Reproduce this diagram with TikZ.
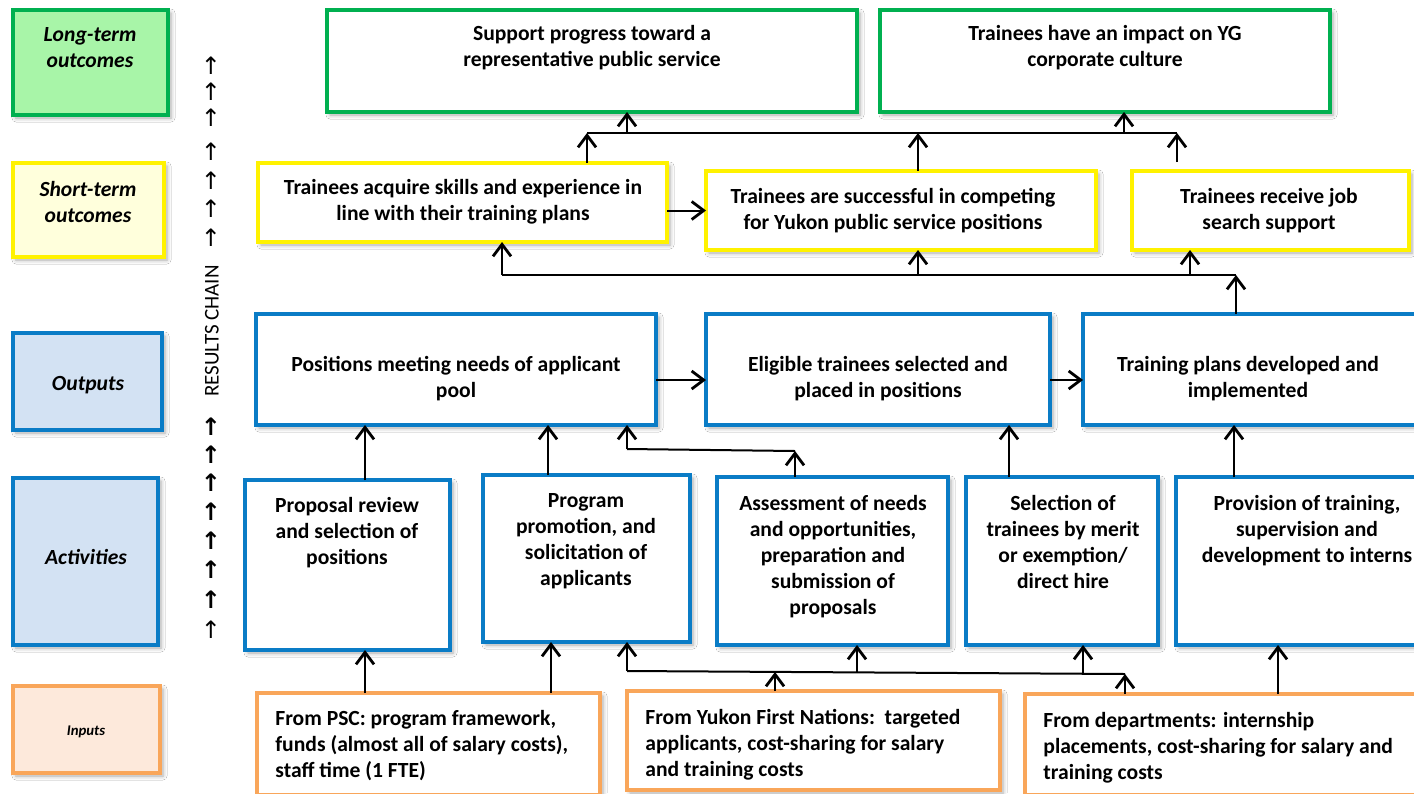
\documentclass[tikz,border=0pt]{standalone}
\usepackage{fontspec}
\setmainfont{Carlito}
\newfontfamily\arrowfont{DejaVu Sans}
\usetikzlibrary{arrows.meta,shadows.blur,calc}
\definecolor{gbord}{HTML}{00B050}
\definecolor{gfill}{HTML}{A8F5A8}
\definecolor{ybord}{HTML}{FFF200}
\definecolor{yfill}{HTML}{FFFFDC}
\definecolor{bbord}{HTML}{0A7CC6}
\definecolor{bfill}{HTML}{D3E2F3}
\definecolor{obord}{HTML}{F9A65A}
\definecolor{ofill}{HTML}{FDE9DB}
\newcommand\bx[6]{\node[#2,minimum width={(#5-#3)*0.5pt},minimum height={(#6-#4)*0.5pt}] (#1) at ({(#3+#5)/2},{(#4+#6)/2}) {};}
\tikzset{
  box/.style={draw, line width=2pt, fill=white, inner sep=0pt, outer sep=0pt,
    blur shadow={shadow xshift=1.5pt, shadow yshift=-1.5pt, shadow blur radius=2pt, shadow opacity=35}},
  ltb/.style={box, draw=gbord},
  stb/.style={box, draw=ybord},
  bb/.style={box, draw=bbord},
  ib/.style={box, draw=obord},
  txt/.style={font=\bfseries\fontsize{10.8}{13}\selectfont, align=center, inner sep=0pt, yshift=-1pt},
  ltxt/.style={txt, align=left, anchor=west},
  cattxt/.style={txt, font=\bfseries\itshape\fontsize{10.8}{13}\selectfont},
  arr/.style={line width=1pt, -{Straight Barb[length=6pt,width=9pt,line width=1.4pt]}},
  ln/.style={line width=1pt},
  upthin/.style={font=\arrowfont\fontsize{12}{12}\selectfont, inner sep=0pt},
  upbold/.style={font=\arrowfont\bfseries\fontsize{12}{12}\selectfont, inner sep=0pt},
}
\begin{document}
\begin{tikzpicture}[x=0.5pt,y=-0.5pt]
\useasboundingbox (0,0) rectangle (1414,793);
\clip (0,0) rectangle (1414,793);
\fill[white] (0,0) rectangle (1414,793);

% category boxes
\bx{clt}{ltb,fill=gfill}{13}{10}{168}{115}
\bx{cst}{stb,fill=yfill}{13}{163}{164}{257}
\bx{cout}{bb,fill=bfill}{13}{333}{162}{430}
\bx{cact}{bb,fill=bfill}{13}{478}{158}{645}
\bx{cin}{ib,fill=ofill}{13}{686}{160}{773}
\node[cattxt] (cltt) at (90,46) {Long-term\\outcomes};
\node[cattxt] (cstt) at (88,200) {Short-term\\outcomes};
\node[cattxt] (coutt) at (88,383) {Outputs};
\node[cattxt] (cactt) at (86,555) {Activities};
\node[cattxt, font=\bfseries\itshape\fontsize{7.4}{9}\selectfont] (cint) at (86,730) {Inputs};

% results chain column
\foreach \y [count=\i] in {66,92,118,152,181,209,238}
  \node[upthin] (ut\i) at (211,\y) {↑};
\foreach \y [count=\i] in {427,455,483,512,541,570,600}
  \node[upbold] (ub\i) at (211,\y) {↑};
\node[upthin] (ub8) at (211,630) {↑};
\node[rotate=90, font=\fontsize{10.5}{12}\selectfont, inner sep=0pt] (rc) at (212,331) {RESULTS CHAIN};

% long-term
\bx{lt1}{ltb}{327}{10}{857}{112}
\bx{lt2}{ltb}{880}{10}{1330}{112}
\node[txt] (lt1t) at (592,46) {Support progress toward a\\representative public service};
\node[txt] (lt2t) at (1105,46) {Trainees have an impact on YG\\corporate culture};

% short-term
\bx{st1}{stb}{258}{163}{667}{242}
\bx{st2}{stb}{706}{171}{1096}{250}
\bx{st3}{stb}{1132}{171}{1409}{250}
\node[txt] (st1t) at (463,200) {Trainees acquire skills and experience in\\line with their training plans};
\node[txt] (st2t) at (893,209) {Trainees are successful in competing\\for Yukon public service positions};
\node[txt] (st3t) at (1269,209) {Trainees receive job\\search support};

% outputs
\bx{o1}{bb}{256}{314}{656}{425}
\bx{o2}{bb}{706}{314}{1050}{425}
\bx{o3}{bb}{1083}{314}{1430}{425}
\node[txt] (o1t) at (456,377) {Positions meeting needs of applicant\\pool};
\node[txt] (o2t) at (878,377) {Eligible trainees selected and\\placed in positions};
\node[txt] (o3t) at (1248,377) {Training plans developed and\\implemented};

% activities
\bx{a1}{bb}{245}{480}{450}{650}
\bx{a2}{bb}{483}{475}{690}{642}
\bx{a3}{bb}{717}{477}{948}{645}
\bx{a4}{bb}{966}{477}{1158}{645}
\bx{a5}{bb}{1176}{477}{1430}{645}
\node[txt] (a1t) at (347,531) {Proposal review\\and selection of\\positions};
\node[txt] (a2t) at (586,539) {Program\\promotion, and\\solicitation of\\applicants};
\node[txt] (a3t) at (833,555) {Assessment of needs\\and opportunities,\\preparation and\\submission of\\proposals};
\node[txt] (a4t) at (1063,540) {Selection of\\trainees by merit\\or exemption/\\direct hire};
\node[txt] (a5t) at (1307,529) {Provision of training,\\supervision and\\development to interns};

% inputs
\bx{i1}{ib}{257}{693}{600}{795}
\bx{i2}{ib}{627}{691}{1000}{790}
\bx{i3}{ib}{1025}{694}{1430}{795}
\node[ltxt] (i1t) at (275,744) {From PSC: program framework,\\funds (almost all of salary costs),\\staff time (1 FTE)};
\node[ltxt] (i2t) at (645,743) {From Yukon First Nations:\ \ targeted\\applicants, cost-sharing for salary\\and training costs};
\node[ltxt] (i3t) at (1043,746) {From departments: internship\\placements, cost-sharing for salary and\\training costs};

% helper coordinates
\coordinate (tl) at (587,133);
\coordinate (tm) at (918,133);
\coordinate (tr) at (1177,133);
\coordinate (t3) at (1177,162);
\coordinate (tlt1) at (627,133);
\coordinate (tlt2) at (1124,133);
\coordinate (ml) at (502,275);
\coordinate (mm) at (918,275);
\coordinate (mr) at (1190,275);
\coordinate (mo) at (1236,275);
\coordinate (oy) at (0,380);
\coordinate (al) at (627,449);
\coordinate (ar) at (795,451);
\coordinate (xa1) at (365,0);
\coordinate (xa2) at (548,0);
\coordinate (xa4) at (1009,0);
\coordinate (xa5) at (1234,0);
\coordinate (xi2) at (551,0);
\coordinate (xi5) at (1278,0);
\coordinate (bl) at (627,671);
\coordinate (b2) at (775,672);
\coordinate (bm) at (857,672);
\coordinate (b4) at (1083,673);
\coordinate (br) at (1125,674);

% top connectors
\draw[ln] (tl) -- (tr);
\draw[arr] (st1.north -| tl) -- (tl);
\draw[arr] (st2.north -| tm) -- (tm);
\draw[arr] (t3) -- (tr);
\draw[arr] (tlt1) -- (lt1.south -| tlt1);
\draw[arr] (tlt2) -- (lt2.south -| tlt2);
\draw[arr] (st1.east |- st2.west) -- (st2.west);

% middle connectors
\draw[ln] (ml) -- (mo);
\draw[arr] (ml) -- (st1.south -| ml);
\draw[arr] (mm) -- (st2.south -| mm);
\draw[arr] (mr) -- (st3.south -| mr);
\draw[arr] (o3.north -| mo) -- (mo);

% outputs row
\draw[arr] (o1.east |- oy) -- (o2.west |- oy);
\draw[arr] (o2.east |- oy) -- (o3.west |- oy);

% activities to outputs
\draw[arr] (a1.north -| xa1) -- (o1.south -| xa1);
\draw[arr] (a2.north -| xa2) -- (o1.south -| xa2);
\draw[ln] (al) -- (ar);
\draw[arr] (a3.north -| ar) -- (ar);
\draw[arr] (al) -- (o1.south -| al);
\draw[arr] (a4.north -| xa4) -- (o2.south -| xa4);
\draw[arr] (a5.north -| xa5) -- (o3.south -| xa5);

% inputs to activities
\draw[arr] (i1.north -| xa1) -- (a1.south -| xa1);
\draw[arr] (i1.north -| xi2) -- (a2.south -| xi2);
\draw[ln] (bl) -- (br);
\draw[arr] (bl) -- (a2.south -| bl);
\draw[arr] (bm) -- (a3.south -| bm);
\draw[arr] (b4) -- (a4.south -| b4);
\draw[arr] (i2.north -| b2) -- (b2);
\draw[arr] (i3.north -| br) -- (br);
\draw[arr] (i3.north -| xi5) -- (a5.south -| xi5);
\end{tikzpicture}
\end{document}
